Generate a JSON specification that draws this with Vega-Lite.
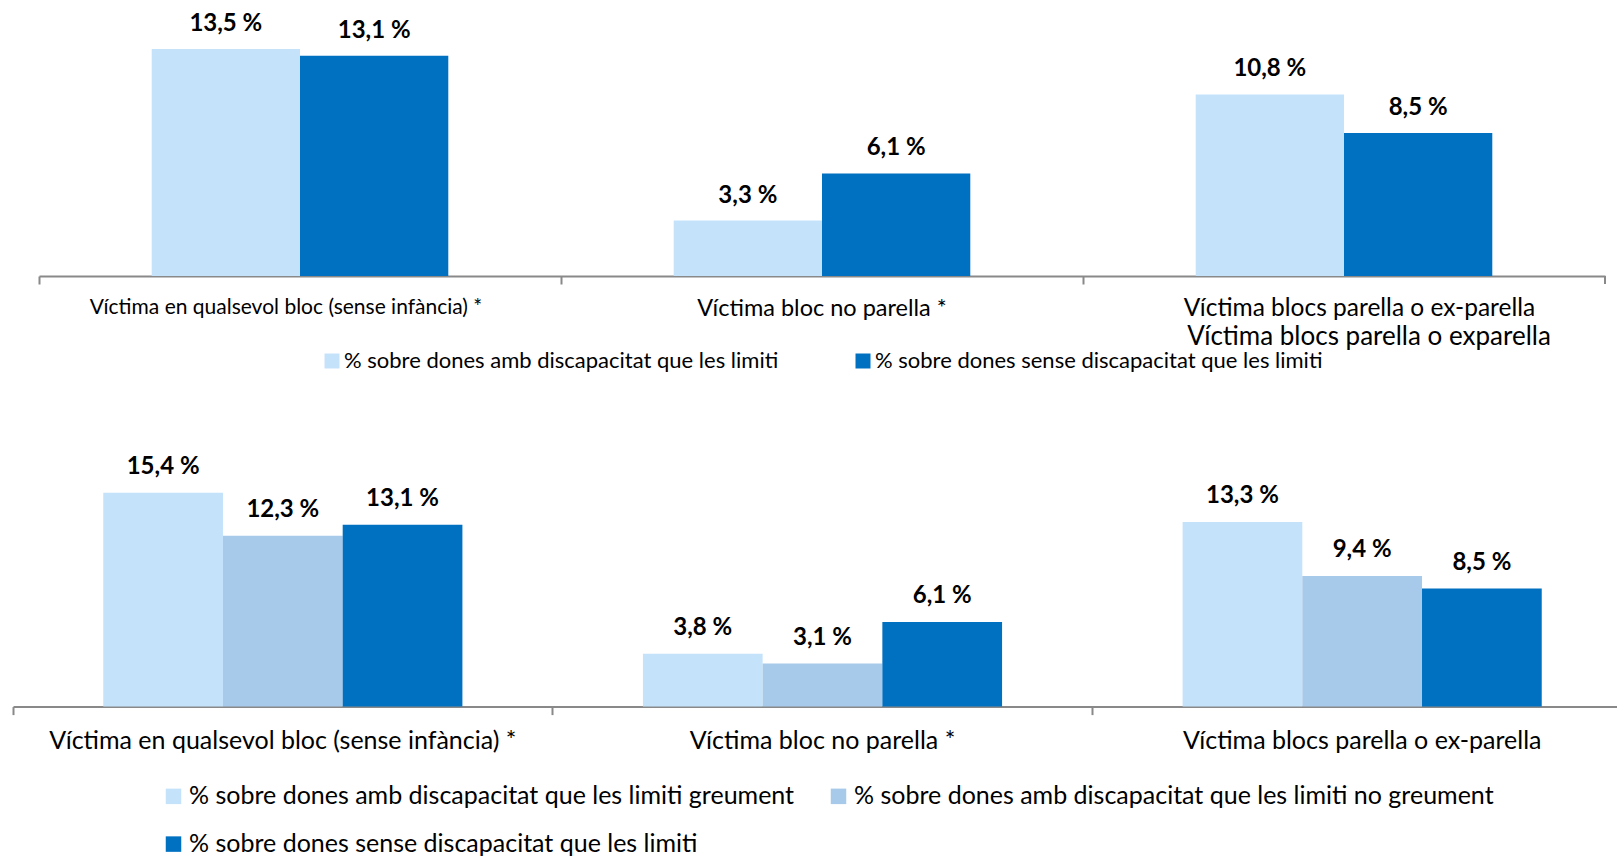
{
  "$schema": "https://vega.github.io/schema/vega-lite/v6.json",
  "padding": {"left": 12, "top": 7, "right": 0, "bottom": 0},
  "background": "white",
  "config": {
    "view": {"stroke": null},
    "font": "Lato",
    "axis": {"domainColor": "#898989", "domainWidth": 2, "tickColor": "#898989", "tickWidth": 2, "tickSize": 8, "labelColor": "#000000", "labelLimit": 0, "labelAngle": 0, "grid": false, "title": null},
    "legend": {"title": null, "symbolType": "square", "symbolStrokeWidth": 0, "labelColor": "#000000", "labelLimit": 0, "orient": "none", "direction": "horizontal"}
  },
  "datasets": {
    "top": [
      {"cat": "Víctima en qualsevol bloc (sense infància) *", "s": "% sobre dones amb discapacitat que les limiti", "v": 13.5},
      {"cat": "Víctima en qualsevol bloc (sense infància) *", "s": "% sobre dones sense discapacitat que les limiti", "v": 13.1},
      {"cat": "Víctima bloc no parella *", "s": "% sobre dones amb discapacitat que les limiti", "v": 3.3},
      {"cat": "Víctima bloc no parella *", "s": "% sobre dones sense discapacitat que les limiti", "v": 6.1},
      {"cat": "Víctima blocs parella o ex-parella", "s": "% sobre dones amb discapacitat que les limiti", "v": 10.8},
      {"cat": "Víctima blocs parella o ex-parella", "s": "% sobre dones sense discapacitat que les limiti", "v": 8.5}
    ],
    "bottom": [
      {"cat2": "Víctima en qualsevol bloc (sense infància) *", "s2": "% sobre dones amb discapacitat que les limiti greument", "v2": 15.4},
      {"cat2": "Víctima en qualsevol bloc (sense infància) *", "s2": "% sobre dones amb discapacitat que les limiti no greument", "v2": 12.3},
      {"cat2": "Víctima en qualsevol bloc (sense infància) *", "s2": "% sobre dones sense discapacitat que les limiti", "v2": 13.1},
      {"cat2": "Víctima bloc no parella *", "s2": "% sobre dones amb discapacitat que les limiti greument", "v2": 3.8},
      {"cat2": "Víctima bloc no parella *", "s2": "% sobre dones amb discapacitat que les limiti no greument", "v2": 3.1},
      {"cat2": "Víctima bloc no parella *", "s2": "% sobre dones sense discapacitat que les limiti", "v2": 6.1},
      {"cat2": "Víctima blocs parella o ex-parella", "s2": "% sobre dones amb discapacitat que les limiti greument", "v2": 13.3},
      {"cat2": "Víctima blocs parella o ex-parella", "s2": "% sobre dones amb discapacitat que les limiti no greument", "v2": 9.4},
      {"cat2": "Víctima blocs parella o ex-parella", "s2": "% sobre dones sense discapacitat que les limiti", "v2": 8.5}
    ]
  },
  "resolve": {
    "scale": {"x": "independent", "xOffset": "independent", "y": "independent", "color": "independent"},
    "legend": {"color": "independent"},
    "axis": {"x": "independent", "y": "independent"}
  },
  "spacing": 82.6,
  "vconcat": [
    {
      "width": 1605,
      "height": 269,
      "layer": [
        {
          "data": {"name": "top"},
          "mark": {"type": "bar"},
          "encoding": {
            "x": {"field": "cat", "type": "nominal", "sort": ["Víctima en qualsevol bloc (sense infància) *", "Víctima bloc no parella *", "Víctima blocs parella o ex-parella"], "scale": {"range": [26, 1592], "paddingInner": 0, "paddingOuter": 0},
              "axis": {"bandPosition": 0, "labelPadding": 12.5,
                "labelFontSize": {"condition": [{"test": "datum.value == 'Víctima bloc no parella *'", "value": 23.5}, {"test": "datum.value == 'Víctima blocs parella o ex-parella'", "value": 24.5}], "value": 21},
                "labelOffset": {"condition": [{"test": "datum.value == 'Víctima en qualsevol bloc (sense infància) *'", "value": -14}, {"test": "datum.value == 'Víctima blocs parella o ex-parella'", "value": 15.5}], "value": 0}}},
            "xOffset": {"field": "s", "type": "nominal", "sort": ["% sobre dones amb discapacitat que les limiti", "% sobre dones sense discapacitat que les limiti"], "scale": {"paddingInner": 0, "paddingOuter": 0.76}},
            "y": {"field": "v", "type": "quantitative", "scale": {"domain": [0, 16], "nice": false}, "axis": null},
            "color": {"field": "s", "type": "nominal", "sort": ["% sobre dones amb discapacitat que les limiti", "% sobre dones sense discapacitat que les limiti"], "scale": {"domain": ["% sobre dones amb discapacitat que les limiti", "% sobre dones sense discapacitat que les limiti"], "range": ["#C4E3FB", "#0070C0"]}, "legend": {"labelFontSize": 22, "symbolSize": 225, "columnPadding": 73, "labelOffset": 1, "legendX": 308, "legendY": 343}}
          }
        },
        {
          "data": {"values": [{"cat": "Víctima blocs parella o ex-parella"}]},
          "mark": {"type": "rule", "color": "#898989", "strokeWidth": 2},
          "encoding": {
            "x": {"field": "cat", "type": "nominal", "bandPosition": 1, "sort": ["Víctima en qualsevol bloc (sense infància) *", "Víctima bloc no parella *", "Víctima blocs parella o ex-parella"]},
            "y": {"datum": 0, "type": "quantitative"},
            "y2": {"datum": -0.48}
          }
        },
        {
          "data": {"name": "top"},
          "transform": [{"calculate": "replace(format(datum.v, '.1f'), '.', ',') + ' %'", "as": "lbl"}],
          "mark": {"type": "text", "dy": -25, "fontWeight": "bold", "fontSize": 24, "color": "#000000", "baseline": "middle"},
          "encoding": {
            "x": {"field": "cat", "type": "nominal", "sort": ["Víctima en qualsevol bloc (sense infància) *", "Víctima bloc no parella *", "Víctima blocs parella o ex-parella"]},
            "xOffset": {"field": "s", "type": "nominal", "sort": ["% sobre dones amb discapacitat que les limiti", "% sobre dones sense discapacitat que les limiti"]},
            "y": {"field": "v", "type": "quantitative"},
            "text": {"field": "lbl"}
          }
        },
        {
          "data": {"values": [{"t": "Víctima blocs parella o exparella"}]},
          "mark": {"type": "text", "fontSize": 26, "color": "#000000", "baseline": "middle", "dx": 25},
          "encoding": {
            "x": {"datum": "Víctima blocs parella o ex-parella", "type": "nominal"},
            "y": {"datum": -3.6, "type": "quantitative"},
            "text": {"field": "t"}
          }
        }
      ]
    },
    {
      "width": 1605,
      "height": 236,
      "layer": [
        {
          "data": {"name": "bottom"},
          "mark": {"type": "bar"},
          "encoding": {
            "x": {"field": "cat2", "type": "nominal", "sort": ["Víctima en qualsevol bloc (sense infància) *", "Víctima bloc no parella *", "Víctima blocs parella o ex-parella"], "scale": {"range": [0, 1619], "paddingInner": 0, "paddingOuter": 0}, "axis": {"bandPosition": 0, "labelFontSize": 25, "labelPadding": 13.5}},
            "xOffset": {"field": "s2", "type": "nominal", "sort": ["% sobre dones amb discapacitat que les limiti greument", "% sobre dones amb discapacitat que les limiti no greument", "% sobre dones sense discapacitat que les limiti"], "scale": {"paddingInner": 0, "paddingOuter": 0.754}},
            "y": {"field": "v2", "type": "quantitative", "scale": {"domain": [0, 17], "nice": false}, "axis": null},
            "color": {"field": "s2", "type": "nominal", "sort": ["% sobre dones amb discapacitat que les limiti greument", "% sobre dones amb discapacitat que les limiti no greument", "% sobre dones sense discapacitat que les limiti"], "scale": {"domain": ["% sobre dones amb discapacitat que les limiti greument", "% sobre dones amb discapacitat que les limiti no greument", "% sobre dones sense discapacitat que les limiti"], "range": ["#C4E3FB", "#A7CAEA", "#0070C0"]}, "legend": {"labelFontSize": 25, "symbolSize": 240, "columns": 2, "columnPadding": 31, "rowPadding": 22, "labelOffset": 3, "legendX": 148, "legendY": 313}}
          }
        },
        {
          "data": {"name": "bottom"},
          "transform": [{"calculate": "replace(format(datum.v2, '.1f'), '.', ',') + ' %'", "as": "lbl"}],
          "mark": {"type": "text", "dy": -26, "fontWeight": "bold", "fontSize": 24, "color": "#000000", "baseline": "middle"},
          "encoding": {
            "x": {"field": "cat2", "type": "nominal", "sort": ["Víctima en qualsevol bloc (sense infància) *", "Víctima bloc no parella *", "Víctima blocs parella o ex-parella"]},
            "xOffset": {"field": "s2", "type": "nominal", "sort": ["% sobre dones amb discapacitat que les limiti greument", "% sobre dones amb discapacitat que les limiti no greument", "% sobre dones sense discapacitat que les limiti"]},
            "y": {"field": "v2", "type": "quantitative"},
            "text": {"field": "lbl"}
          }
        }
      ]
    }
  ]
}
